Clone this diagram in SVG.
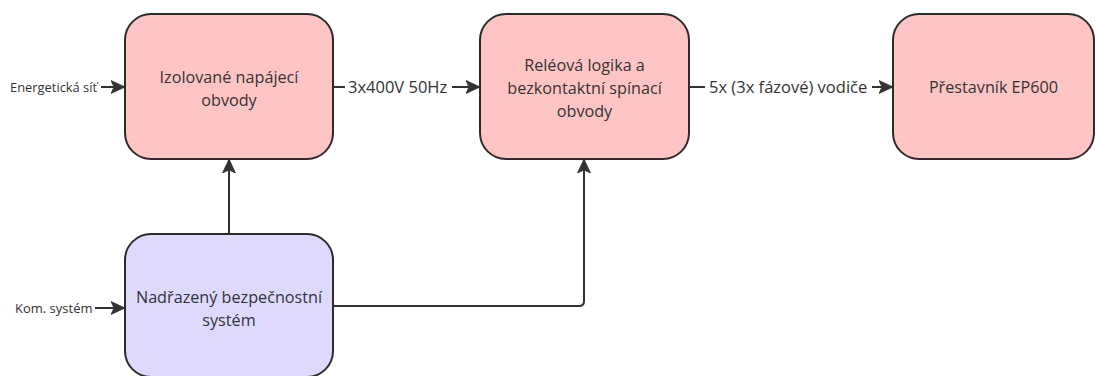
<svg xmlns="http://www.w3.org/2000/svg" width="1095" height="376" viewBox="0 0 1095 376">
  <style>
    .box { stroke: #2b2b2b; stroke-width: 2; }
    .red { fill: #ffc5c5; }
    .violet { fill: #dedaff; }
    .label { font-family: "Open Sans", "Noto Sans", sans-serif; font-size: 16.2px; fill: #333333; text-anchor: middle; }
    .edge { font-family: "Open Sans", "Noto Sans", sans-serif; fill: #333333; }
    .line { fill: none; stroke: #333333; stroke-width: 2; }
  </style>
  <defs>
    <marker id="arrow" viewBox="0 0 14 14" refX="13" refY="7" markerWidth="14" markerHeight="14" markerUnits="userSpaceOnUse" orient="auto">
      <path d="M0,0.5 L14,7 L0,13.5 L3,7 Z" fill="#333333" stroke="#333333" stroke-width="0.8" stroke-linejoin="round"/>
    </marker>
  </defs>
  <rect width="1095" height="376" fill="#ffffff"/>

  <g id="connectors">
    <path class="line" d="M101,87 H124" marker-end="url(#arrow)"/>
    <text class="edge" x="10" y="91.5" font-size="12.9">Energetická síť</text>

    <path class="line" d="M334,87 H345"/>
    <text class="edge" x="348" y="92.7" font-size="16.5">3x400V 50Hz</text>
    <path class="line" d="M452,87 H479" marker-end="url(#arrow)"/>

    <path class="line" d="M690,87 H705"/>
    <text class="edge" x="709" y="92.7" font-size="16.5">5x (3x fázové) vodiče</text>
    <path class="line" d="M872,87 H892" marker-end="url(#arrow)"/>

    <path class="line" d="M95,308 H124" marker-end="url(#arrow)"/>
    <text class="edge" x="15" y="312.5" font-size="13">Kom. systém</text>

    <path class="line" d="M229,234 V160" marker-end="url(#arrow)"/>
    <path class="line" d="M334,306 H579 Q584,306 584,301 V160" marker-end="url(#arrow)"/>
  </g>

  <g id="node-izolovane">
    <rect class="box red" x="125" y="14" width="208" height="145" rx="26"/>
    <text class="label" x="229" y="82.5">Izolované napájecí</text>
    <text class="label" x="229" y="105.5">obvody</text>
  </g>

  <g id="node-releova">
    <rect class="box red" x="480" y="14" width="209" height="145" rx="26"/>
    <text class="label" x="584.5" y="71">Reléová logika a</text>
    <text class="label" x="584.5" y="94">bezkontaktní spínací</text>
    <text class="label" x="584.5" y="117">obvody</text>
  </g>

  <g id="node-prestavnik">
    <rect class="box red" x="893" y="14" width="201" height="145" rx="26"/>
    <text class="label" x="993.5" y="93">Přestavník EP600</text>
  </g>

  <g id="node-nadrazeny">
    <rect class="box violet" x="125" y="234" width="208" height="143" rx="26"/>
    <text class="label" x="229" y="302.5">Nadřazený bezpečnostní</text>
    <text class="label" x="229" y="325.5">systém</text>
  </g>
</svg>
